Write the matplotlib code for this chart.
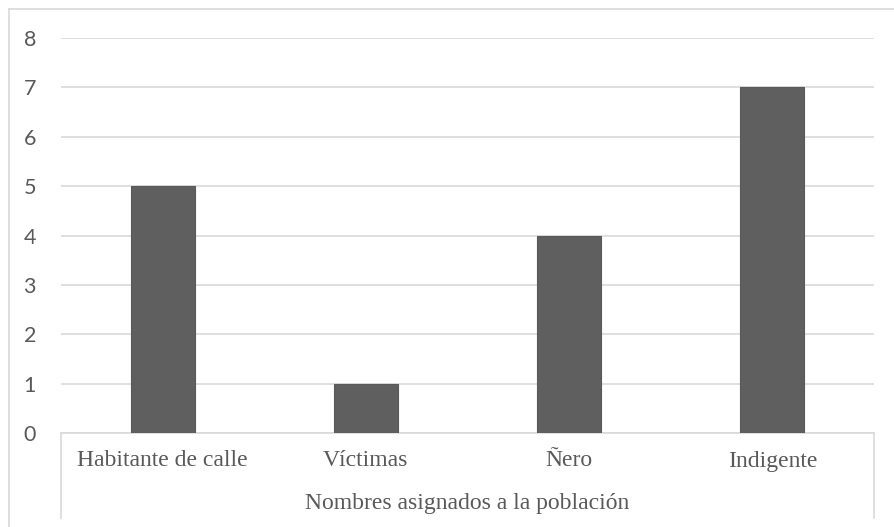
import matplotlib.pyplot as plt
from matplotlib.lines import Line2D
import matplotlib.transforms as mtransforms

categories = ['Habitante de calle', 'Víctimas', 'Ñero', 'Indigente']
values = [5, 1, 4, 7]
axis_title = 'Nombres asignados a la población'

W, H = 894, 527
fig = plt.figure(figsize=(W / 100, H / 100), dpi=100)

# plot area in pixels
left, right, top, bottom = 61, 874, 38, 433
ax = fig.add_axes([left / W, 1 - bottom / H, (right - left) / W, (bottom - top) / H])

grid_c = '#d9d9d9'
text_c = '#595959'

x = range(len(categories))
ax.bar(x, values, width=0.315, color='#5f5f5f', edgecolor='#595959', linewidth=0.8, zorder=3)
ax.set_xlim(-0.5, len(categories) - 0.5)
ax.set_ylim(0, 8)
ax.set_yticks(range(0, 9))
ax.yaxis.grid(True, color=grid_c, linewidth=1.2, zorder=0)
ax.set_xticks([])
for s in ['top', 'right', 'left']:
    ax.spines[s].set_visible(False)
ax.spines['bottom'].set_color(grid_c)
ax.spines['bottom'].set_linewidth(1.2)
ax.tick_params(axis='y', length=0, pad=18, labelsize=15.5, labelcolor=text_c)
for lab in ax.get_yticklabels():
    lab.set_family('Lato')

ax_h = bottom - top
trans = mtransforms.blended_transform_factory(ax.transData, ax.transAxes)
for i, c in enumerate(categories):
    ax.text(i, -(461 - bottom) / ax_h, c, transform=trans, ha='center', va='center',
            family='Liberation Serif', fontsize=17, color=text_c)

# vertical separators below the axis
y_low = -(518 - bottom) / ax_h
for xv in [-0.5, len(categories) - 0.5]:
    ax.add_line(Line2D([xv, xv], [0, y_low], transform=trans, color=grid_c,
                       linewidth=1.2, clip_on=False))

ax.text(0.5, -(504 - bottom) / ax_h, axis_title, transform=ax.transAxes, ha='center',
        va='center', family='Liberation Serif', fontsize=17, color=text_c)

# outer chart border
fig.add_artist(Line2D([9 / W, 9 / W], [1 - 9 / H, 0], transform=fig.transFigure,
                      color=grid_c, linewidth=1.2))
fig.add_artist(Line2D([9 / W, 1], [1 - 9 / H, 1 - 9 / H], transform=fig.transFigure,
                      color=grid_c, linewidth=1.2))

fig.savefig('out.png', dpi=100)
